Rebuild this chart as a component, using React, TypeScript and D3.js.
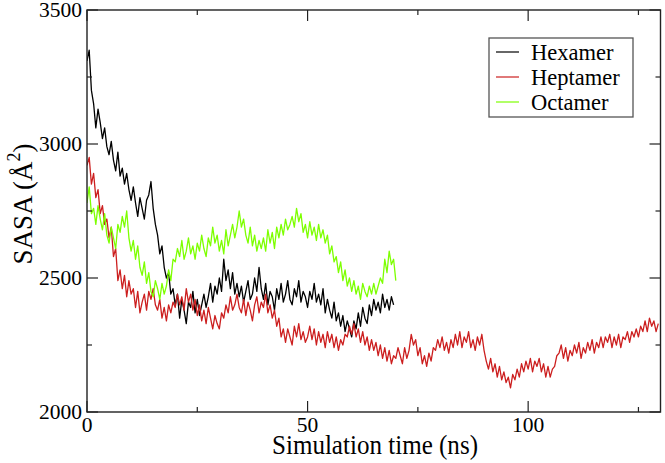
import React from "react";
import * as d3 from "d3";

const TIME_STEP = 0.5;

const hexamer = [
  3310, 3350, 3200, 3150, 3060, 3130, 3080, 3020, 3060, 2990,
  2960, 3010, 2940, 2900, 2970, 2880, 2910, 2850, 2890, 2830,
  2790, 2840, 2780, 2730, 2800, 2760, 2720, 2790, 2810, 2860,
  2760, 2700, 2660, 2590, 2620, 2540, 2500, 2520, 2440, 2460,
  2400, 2440, 2350, 2420, 2380, 2330, 2410, 2390, 2450, 2370,
  2420, 2360, 2400, 2440, 2390, 2430, 2480, 2410, 2470, 2440,
  2500, 2450, 2570, 2490, 2530, 2460, 2520, 2440, 2480, 2430,
  2470, 2410, 2450, 2490, 2420, 2440, 2500, 2450, 2540, 2460,
  2420, 2480, 2400, 2450, 2430, 2380, 2460, 2420, 2480, 2410,
  2440, 2490, 2420, 2400, 2460, 2430, 2490, 2410, 2450, 2430,
  2390, 2450, 2420, 2480, 2410, 2440, 2400, 2460, 2370, 2420,
  2380, 2350, 2410, 2340, 2370, 2320, 2360, 2300, 2340, 2310,
  2280, 2340, 2310, 2370, 2320, 2390, 2350, 2330, 2400, 2360,
  2420, 2380, 2410, 2370, 2440, 2390, 2420, 2380, 2430, 2400,
];

const heptamer = [
  2920, 2950, 2850, 2890, 2800, 2830, 2740, 2770, 2700, 2720,
  2650, 2690, 2580, 2610, 2490, 2530, 2460, 2510, 2430, 2490,
  2440, 2460, 2390, 2450, 2370, 2410, 2440, 2380, 2450, 2420,
  2460, 2400, 2380, 2420, 2350, 2390, 2340, 2400, 2370, 2410,
  2390, 2440, 2400, 2430, 2380, 2460, 2410, 2440, 2380, 2420,
  2360, 2400, 2340, 2380, 2330, 2390, 2350, 2310, 2360, 2330,
  2310, 2370, 2350, 2400, 2370, 2430, 2380, 2400, 2440, 2390,
  2370, 2420, 2360, 2410, 2380, 2340, 2400, 2430, 2370, 2410,
  2390, 2440, 2370, 2400, 2350, 2380, 2320, 2350, 2280, 2310,
  2260, 2310, 2280, 2250, 2320, 2280, 2330, 2270, 2300, 2260,
  2280, 2320, 2270, 2310, 2250, 2300, 2260, 2290, 2240, 2300,
  2260, 2290, 2240, 2280, 2230, 2270, 2250, 2290, 2280, 2320,
  2290, 2330, 2280, 2310, 2260, 2300, 2250, 2280, 2230, 2270,
  2230, 2260, 2210, 2250, 2200, 2240, 2190, 2230, 2180, 2210,
  2200, 2240, 2210, 2180, 2240, 2200, 2230, 2290, 2250, 2270,
  2210, 2240, 2180, 2210, 2170, 2220, 2190, 2240, 2230, 2270,
  2240, 2280, 2230, 2260, 2220, 2270, 2240, 2290, 2250, 2300,
  2240, 2280, 2260, 2300, 2240, 2270, 2230, 2280, 2250, 2290,
  2230, 2190, 2160, 2200, 2150, 2180, 2130, 2170, 2120, 2150,
  2110, 2130, 2090, 2140, 2120, 2160, 2130, 2180, 2150, 2190,
  2160, 2200, 2150, 2190, 2170, 2200, 2150, 2180, 2130, 2170,
  2130, 2160, 2170, 2210, 2220, 2250, 2200, 2240, 2190, 2230,
  2210, 2250, 2220, 2260, 2200, 2240, 2220, 2260, 2230, 2270,
  2220, 2260, 2240, 2280, 2240, 2280, 2260, 2290, 2240, 2280,
  2250, 2290, 2240, 2280, 2270, 2300, 2260, 2300, 2280, 2310,
  2280, 2320, 2300, 2340, 2300, 2350, 2320, 2340, 2300, 2330,
];

const octamer = [
  2780, 2840, 2740, 2760, 2700, 2770, 2720, 2680, 2740, 2660,
  2630, 2690, 2650, 2610, 2700, 2670, 2730, 2690, 2750, 2650,
  2600, 2640, 2570, 2620, 2540, 2510, 2560, 2480, 2520, 2450,
  2430, 2490, 2460, 2420, 2480, 2440, 2470, 2530, 2490, 2570,
  2560, 2610, 2580, 2640, 2570, 2600, 2650, 2590, 2620, 2570,
  2630, 2600, 2660, 2610, 2580, 2650, 2620, 2690, 2630, 2660,
  2600, 2640, 2590, 2680, 2620, 2660, 2700, 2650, 2690, 2750,
  2690, 2720, 2660, 2630, 2690, 2620, 2660, 2600, 2640, 2610,
  2650, 2600, 2680, 2630, 2670, 2610, 2690, 2650, 2700, 2660,
  2720, 2680, 2700, 2730, 2690, 2760, 2710, 2740, 2670, 2700,
  2650, 2710, 2660, 2690, 2640, 2700, 2650, 2680, 2630, 2660,
  2590, 2620, 2560, 2580, 2520, 2560, 2490, 2530, 2470, 2500,
  2450, 2490, 2440, 2470, 2420, 2480, 2450, 2430, 2470, 2440,
  2480, 2440, 2470, 2500, 2480, 2570, 2520, 2600, 2550, 2570,
  2490,
];

const seriesNames = ["Hexamer", "Heptamer", "Octamer"];
const seriesColors = ["#000000", "#cc1f1f", "#7dff00"];
const seriesData = [hexamer, heptamer, octamer];

const xMajorTicks = [0, 50, 100];
const xMinorTicks = [25, 75, 125];
const yMajorTicks = [2000, 2500, 3000, 3500];
const yMinorTicks = [2250, 2750, 3250];

const W = 665;
const H = 463;
const L = 87;
const R = 660.5;
const T = 10;
const B = 412;

const FONT = '"Liberation Serif", serif';

export default function App() {
  const x = d3.scaleLinear().domain([0, 130]).range([L, R]);
  const y = d3.scaleLinear().domain([2000, 3500]).range([B, T]);
  const line = d3
    .line<number>()
    .x((_, i) => x(i * TIME_STEP))
    .y((d) => y(d));
  const axisColor = "#222";
  const major = 11;
  const minor = 5;
  const ts = { fontFamily: FONT };

  return (
    <svg
      width={W}
      height={H}
      style={{ position: "fixed", left: 0, top: 0, background: "#fff", fontFamily: FONT }}
    >
      <rect x={0} y={0} width={W} height={H} fill="#fff" />
      <defs>
        <clipPath id="plot">
          <rect x={L} y={T} width={R - L} height={B - T} />
        </clipPath>
      </defs>
      <g clipPath="url(#plot)">
        {seriesData.map((d, i) => (
          <path
            key={seriesNames[i]}
            d={line(d) || ""}
            fill="none"
            stroke={seriesColors[i]}
            strokeWidth={1.3}
            strokeLinejoin="round"
          />
        ))}
      </g>
      <rect
        x={L}
        y={T}
        width={R - L}
        height={B - T}
        fill="none"
        stroke={axisColor}
        strokeWidth={1.4}
      />
      {xMajorTicks.map((t) => (
        <g key={"xM" + t}>
          <line x1={x(t)} x2={x(t)} y1={B} y2={B - major} stroke={axisColor} strokeWidth={1.2} />
          <line x1={x(t)} x2={x(t)} y1={T} y2={T + major} stroke={axisColor} strokeWidth={1.2} />
          <text x={x(t)} y={432} fontSize={21.5} textAnchor="middle" fill="#000" style={ts}>
            {t}
          </text>
        </g>
      ))}
      {xMinorTicks.map((t) => (
        <g key={"xm" + t}>
          <line x1={x(t)} x2={x(t)} y1={B} y2={B - minor} stroke={axisColor} strokeWidth={1.2} />
          <line x1={x(t)} x2={x(t)} y1={T} y2={T + minor} stroke={axisColor} strokeWidth={1.2} />
        </g>
      ))}
      {yMajorTicks.map((t) => (
        <g key={"yM" + t}>
          <line x1={L} x2={L + major} y1={y(t)} y2={y(t)} stroke={axisColor} strokeWidth={1.2} />
          <line x1={R} x2={R - major} y1={y(t)} y2={y(t)} stroke={axisColor} strokeWidth={1.2} />
          <text x={82} y={y(t) + 7} fontSize={21.5} textAnchor="end" fill="#000" style={ts}>
            {t}
          </text>
        </g>
      ))}
      {yMinorTicks.map((t) => (
        <g key={"ym" + t}>
          <line x1={L} x2={L + minor} y1={y(t)} y2={y(t)} stroke={axisColor} strokeWidth={1.2} />
          <line x1={R} x2={R - minor} y1={y(t)} y2={y(t)} stroke={axisColor} strokeWidth={1.2} />
        </g>
      ))}
      <text
        x={272}
        y={454}
        fontSize={27}
        textLength={206}
        lengthAdjust="spacingAndGlyphs"
        fill="#000"
        style={ts}
      >
        Simulation time (ns)
      </text>
      <text
        transform="translate(32, 204) rotate(-90)"
        fontSize={27}
        textAnchor="middle"
        fill="#000"
        style={ts}
      >
        SASA (Å
        <tspan dy={-12} fontSize={18}>2</tspan>
        <tspan dy={12}>)</tspan>
      </text>
      <rect x={489} y={38} width={144} height={79} fill="#fff" stroke="#555" strokeWidth={1.3} />
      {seriesNames.map((n, i) => {
        const ly = 52 + i * 25;
        return (
          <g key={"lg" + n}>
            <line x1={496} x2={519} y1={ly} y2={ly} stroke={seriesColors[i]} strokeWidth={1.2} />
            <text x={531} y={ly + 8} fontSize={22.5} fill="#000" style={ts}>
              {n}
            </text>
          </g>
        );
      })}
    </svg>
  );
}
